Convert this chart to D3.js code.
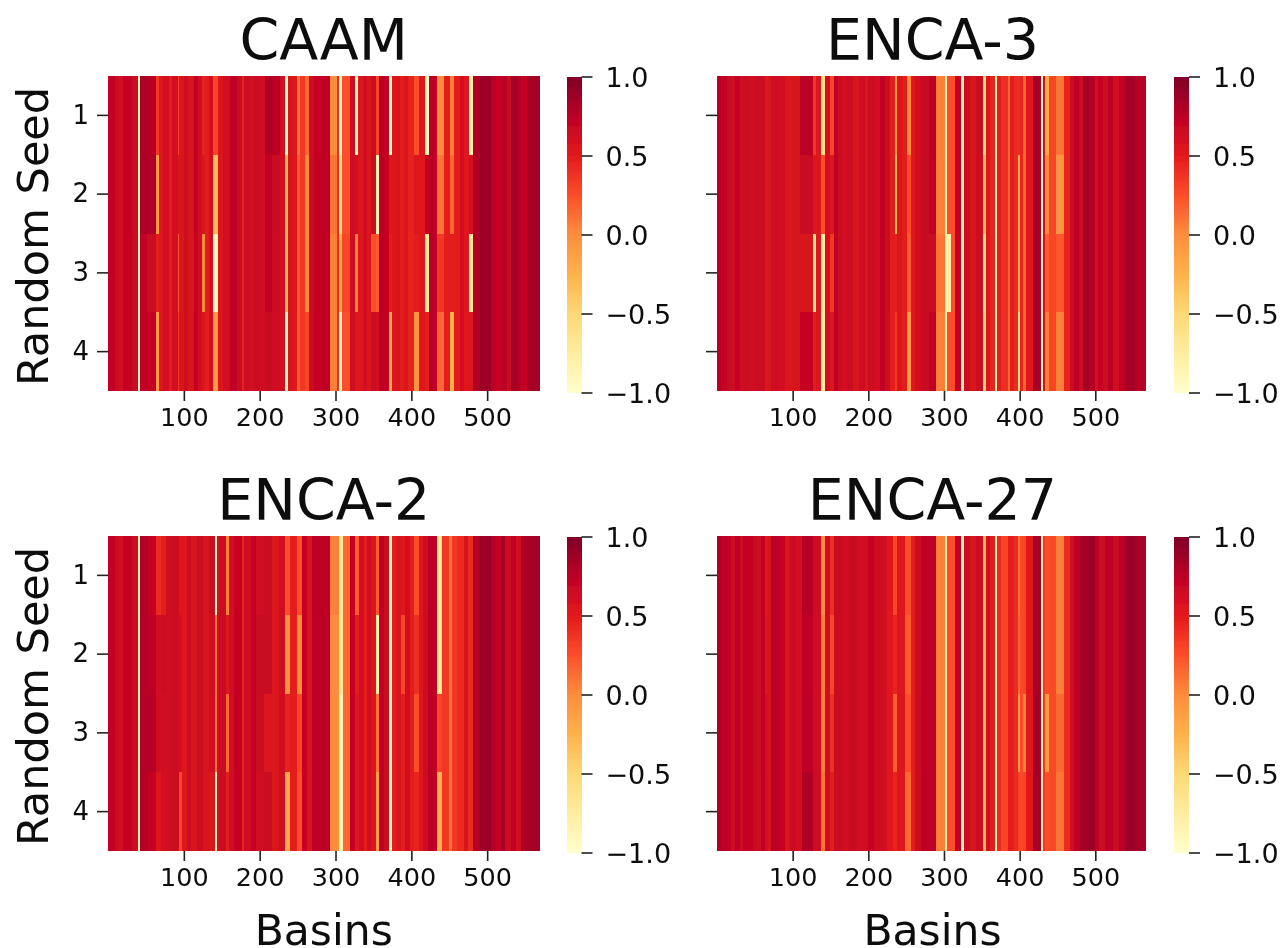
<!DOCTYPE html>
<html><head><meta charset="utf-8">
<script src="https://cdnjs.cloudflare.com/ajax/libs/d3/7.8.5/d3.min.js"></script>
<style>html,body{margin:0;background:#fff}svg{display:block}text{font-family:"DejaVu Sans";fill:#111}</style>
</head><body><svg id="c" width="1280" height="948"></svg>
<script>
// Each run: [end basin, value] or [end basin, seed1, seed2, seed3, seed4]
const caamRuns=[[9,.72],[15,.68],[20,.6],[31,.7],[39,.66],[42,-.95],[52,.82,.82,.72,.72],[63,.78,.8,.68,.7],[67,.35,-.1,.5,-.1],[73,.55],[80,.6],[84,.5],[92,.6],[94,.3,.55,.2,.35],[100,.58],[106,.64],[113,.58],[119,.7],[124,.62],[128,.45,.55,0,.55],[133,.5],[139,.6],[145,.3,-.3,-.9,-.1],[152,.56],[161,.62],[170,.74],[177,.68],[179,.45],[186,.66],[193,.6],[200,.66],[207,.62],[216,.8,.72,.72,.68],[227,.76,.68,.66,.64],[233,.6],[238,-.95,-.3,-.3,-.9],[244,.58],[249,.52],[253,.1,.2,.2,.2],[260,.35],[265,.15,0,0,.3],[272,.66],[280,.7],[293,.72],[302,0,.1,.05,.05],[304,.4],[309,-.9,-.6,-.2,-.9],[319,.25,.25,.3,.25],[326,.65],[330,-.9,.6,.05,.55],[336,.55],[342,.62],[347,.56],[353,.66,.68,.25,.66],[358,.3,-.85,.2,.6],[364,.76],[370,.7],[374,-.95,.55,.5,-.2],[380,.52],[385,.58],[390,.5],[396,.56],[403,.46],[410,.25,.55,.5,-.05],[418,.52],[423,-.9,.7,-.7,.5],[429,.78],[434,.72],[443,0,.1,.35,.15],[451,.48],[456,.05,.15,.5,-.25],[464,.5],[470,.6],[476,.52],[481,-.8,.6,-.7,.55],[491,.8],[505,.88],[512,.76],[518,.7],[526,.76],[531,.68],[540,.84],[544,.78],[553,.7],[569,.84]];
const enca3Runs=[[5,.78],[13,.7],[19,.68],[24,.64],[30,.7],[35,.62],[42,.66],[50,.62],[63,.66],[67,.52],[72,.58],[80,.64],[90,.6],[100,.56],[110,.58],[127,.76,.68,.58,.7],[131,.35,.55,-.6,.5],[137,.55],[143,-.6,.25,-.7,-.75],[149,.6],[155,.3,.55,.35,.55],[160,.72],[165,.66],[172,.6],[180,.66],[188,.58],[195,.64],[200,.56],[207,.66],[215,.6],[222,.72],[229,.66],[235,.48],[238,-.1,-.3,.5,.35],[245,.56],[251,.48],[256,0,.25,.2,-.1],[262,.52],[270,.62],[280,.68],[290,.74,.72,.68,.72],[302,.05,.05,.1,.05],[304,-.8],[309,.25,.25,-.8,.25],[315,.25],[323,.7],[326,-.8],[334,.66],[342,.58],[351,.66],[355,-.55,-.3,-.6,-.5],[361,.55],[367,.45],[370,-.85],[376,.5],[384,.4],[387,.15],[393,.5],[398,.42],[401,.4,-.2,-.2,-.6],[404,.45],[409,.15],[418,.52],[428,.85],[431,-.9],[434,.6],[439,-.2,0,.2,.05],[448,.3],[459,.1,-.05,.22,.05],[466,.45],[472,.66],[478,.74],[484,.66],[492,.84],[499,.78],[504,.6],[510,.7],[517,.66],[523,.76],[531,.62],[539,.72],[553,.84],[567,.78]];
const enca2Runs=[[9,.72],[15,.68],[20,.6],[31,.7],[39,.66],[42,-.9],[53,.78],[63,.7,.75,.78,.7],[70,.42,.62,.62,.55],[76,.5,.66,.62,.6],[84,.62],[93,.66],[97,.55,.6,.6,.3],[104,.55],[110,.66],[117,.58],[125,.66],[133,.58],[141,.66,.62,.6,.55],[144,-.9,.1,.1,-.85],[148,.62],[155,.68],[159,.05,.55,.15,.5],[166,.62],[177,.7],[179,.45],[188,.64],[195,.7],[206,.62,.68,.66,.62],[216,.66,.68,.55,.66],[225,.56],[234,.62],[240,.25,-.05,.45,-.2],[249,.48],[256,.25,0,.3,.25],[262,.7],[269,.58],[280,.74],[293,.75],[304,.05,0,0,0],[310,-.7,-.7,-.85,-.85],[319,.15],[326,.7],[331,.2,.5,.55,.55],[337,.6],[342,.5],[347,.62],[353,.54],[358,.2,-.8,.1,-.1],[364,.72],[370,.66],[374,-.9],[380,.5],[386,.58],[392,.52,.3,.5,.5],[398,.62],[403,.48],[410,.25,.4,.25,.45],[416,.55],[422,.64],[428,.76],[434,.7],[441,-.7,-.7,.3,-.25],[450,.35],[454,.1],[460,.35],[469,.42],[475,.58],[481,.42],[491,.78],[505,.88],[512,.78],[518,.72],[524,.84],[531,.66],[538,.72],[544,.62],[553,.82],[569,.85]];
const enca27Runs=[[5,.8],[13,.74],[19,.72],[24,.66],[30,.72],[35,.66],[48,.7],[58,.66],[63,.72],[67,.52,.58,.6,.62],[72,.58],[80,.76],[90,.7],[96,.58],[104,.68],[112,.6],[127,.78,.72,.74,.8],[137,.64],[143,0,.05,.05,.1],[149,.65],[155,.4,.3,.4,.5],[165,.68],[175,.62],[185,.68],[200,.62],[207,.7],[215,.64],[225,.62],[233,.52],[238,.3,.45,.2,.45],[248,.55],[257,.25,.2,.25,.15],[262,.5],[270,.66],[280,.72],[290,.74],[302,.05],[304,-.75],[315,.25],[323,.72],[326,-.8],[334,.66],[342,.58],[351,.66],[355,-.3],[361,.6],[367,.5],[370,-.85],[376,.42],[384,.3],[392,.48],[398,.42],[401,.1,.15,-.1,.3],[404,.28],[409,.3,.3,.02,.3],[418,.52],[428,.85],[431,-.85],[434,.35],[439,.25,.25,-.1,.25],[448,.28],[459,.05,.05,.15,.1],[466,.42],[472,.62],[480,.72],[490,.84],[499,.88],[505,.72],[513,.66],[523,.74],[531,.68],[539,.76],[553,.88],[567,.84]];

const panelTitles=["CAAM","ENCA-3","ENCA-2","ENCA-27"];
const panelRuns=[caamRuns,enca3Runs,enca2Runs,enca27Runs];
const seedLabels=[1,2,3,4];
const basinTicks=[100,200,300,400,500];
const cbarTicks=[1,.5,0,-.5,-1];

const frames=[
 {x0:108,x1:539.5,y0:76,y1:391,n:569,cb:566.5},
 {x0:717,x1:1146,y0:76,y1:391,n:567,cb:1174},
 {x0:108,x1:539.5,y0:536,y1:851,n:569,cb:566.5},
 {x0:717,x1:1146,y0:536,y1:851,n:567,cb:1174}];

const colors=d3.schemeYlOrRd[9];
const color=d3.scaleLinear().domain(colors.map((_,i)=>-1+i*0.25)).range(colors);
const svg=d3.select("#c");
const defs=svg.append("defs");
defs.append("filter").attr("id","soft").attr("x","-2%").attr("y","-2%").attr("width","104%").attr("height","104%")
  .append("feGaussianBlur").attr("stdDeviation",0.6);
defs.append("filter").attr("id","page").attr("filterUnits","userSpaceOnUse").attr("x",0).attr("y",0).attr("width",1280).attr("height",948)
  .append("feGaussianBlur").attr("stdDeviation",0.35);
const root=svg.append("g").attr("filter","url(#page)");

const TICK="#222";

panelRuns.forEach((runs,p)=>{
  const f=frames[p];
  const x=d3.scaleLinear().domain([0,f.n]).range([f.x0,f.x1]);
  const y=d3.scaleBand().domain(seedLabels).range([f.y0,f.y1]);
  const g=root.append("g");
  const heat=g.append("g").attr("filter","url(#soft)").attr("shape-rendering","crispEdges");
  const cells=[];
  seedLabels.forEach((s,r)=>{let start=0;runs.forEach(u=>{const v=u.length>2?u[r+1]:u[1];cells.push({s,start,end:u[0],v});start=u[0];});});
  heat.selectAll("rect").data(cells).join("rect")
    .attr("x",d=>x(d.start)).attr("width",d=>x(d.end)-x(d.start))
    .attr("y",d=>y(d.s)).attr("height",y.bandwidth()).attr("fill",d=>color(d.v));

  const ax=g.append("g").attr("transform",`translate(0,${f.y1})`).call(d3.axisBottom(x).tickValues(basinTicks).tickSize(10).tickPadding(7));
  ax.select(".domain").remove();
  ax.selectAll("line").attr("stroke",TICK).attr("stroke-width",1.6);
  ax.selectAll("text").attr("font-size",25.5).style("font-family","DejaVu Sans").attr("fill","#1c1c1c");
  const ay=g.append("g").attr("transform",`translate(${f.x0},0)`).call(d3.axisLeft(y).tickSize(11).tickPadding(8).tickFormat(p%2?"":d=>d));
  ay.select(".domain").remove();
  ay.selectAll("line").attr("stroke",TICK).attr("stroke-width",1.6);
  ay.selectAll("text").attr("font-size",26).style("font-family","DejaVu Sans").attr("fill","#1c1c1c");

  g.append("text").attr("x",(f.x0+f.x1)/2+(p%2?1:0)).attr("y",f.y0-16).attr("text-anchor","middle").attr("font-size",57).text(panelTitles[p]);
  if(p%2==0) g.append("text").attr("transform",`translate(48,${(f.y0+f.y1)/2+3}) rotate(-90)`).attr("text-anchor","middle").attr("font-size",43).text("Random Seed");
  if(p>=2) g.append("text").attr("x",(f.x0+f.x1)/2+(p%2?1:0)).attr("y",945).attr("text-anchor","middle").attr("font-size",42.5).text("Basins");

  const cy=d3.scaleLinear().domain([-1,1]).range([f.y1+1.5,f.y0+.5]);
  const levels=d3.range(128).map(i=>-1+(i+.5)*2/128);
  const bar=g.append("g").attr("filter","url(#soft)").attr("shape-rendering","crispEdges");
  bar.selectAll("rect").data(levels).join("rect")
    .attr("x",f.cb).attr("width",15).attr("y",d=>cy(d+1/128)).attr("height",d=>cy(d-1/128)-cy(d+1/128)+.5).attr("fill",d=>color(d));
  const ac=g.append("g").attr("transform",`translate(${f.cb+15},0)`).call(d3.axisRight(cy).tickValues(cbarTicks).tickSize(11).tickPadding(13).tickFormat(d3.format(".1f")));
  ac.select(".domain").remove();
  ac.selectAll("line").attr("stroke",TICK).attr("stroke-width",1.6);
  ac.selectAll("text").attr("font-size",27).attr("dy","0.36em").style("font-family","DejaVu Sans").attr("fill","#1c1c1c");
});
</script></body></html>
